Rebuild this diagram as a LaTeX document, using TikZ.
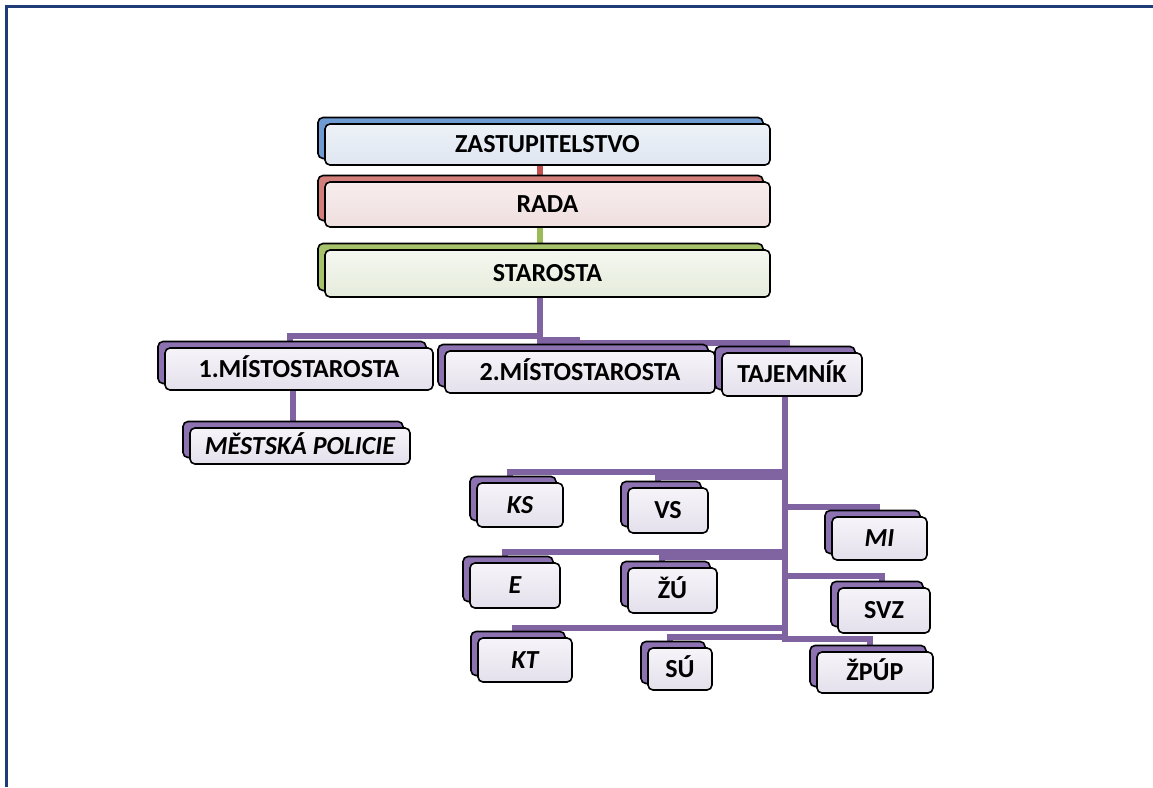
\documentclass[tikz,border=0pt]{standalone}
\usepackage{fontspec}
\setmainfont{Carlito}
\usetikzlibrary{shadows,backgrounds}

\definecolor{framenavy}{HTML}{1F3C78}
\definecolor{linkpurple}{HTML}{8064A2}
\definecolor{linkred}{HTML}{C0504D}
\definecolor{linkgreen}{HTML}{9BBB59}
\definecolor{backpurple}{HTML}{8C72B0}
\definecolor{backblue}{HTML}{6F9BD3}
\definecolor{backred}{HTML}{D27F7C}
\definecolor{backgreen}{HTML}{A6C26A}
\definecolor{facepurple}{HTML}{F6F4F9}
\definecolor{facepurpleB}{HTML}{E4E0EC}
\definecolor{faceblue}{HTML}{EDF2F8}
\definecolor{faceblueB}{HTML}{DFE6F0}
\definecolor{facered}{HTML}{F8EDED}
\definecolor{faceredB}{HTML}{EFDFDF}
\definecolor{facegreen}{HTML}{F4F7F0}
\definecolor{facegreenB}{HTML}{E6ECDC}

\tikzset{
  x=1pt, y=-1pt,
  card/.style={draw=black, line width=1.6pt, rounded corners=5pt, inner sep=0pt,
    font=\fontsize{26}{26}\selectfont\bfseries, text height=16.7pt, text depth=0pt},
  cardback/.style={copy shadow={shadow xshift=-7pt, shadow yshift=6.5pt,
    fill=#1, draw=black, line width=1.6pt}},
  purplecard/.style={card, top color=facepurple, bottom color=facepurpleB, cardback=backpurple},
  bluecard/.style={card, top color=faceblue, bottom color=faceblueB, cardback=backblue},
  redcard/.style={card, top color=facered, bottom color=faceredB, cardback=backred},
  greencard/.style={card, top color=facegreen, bottom color=facegreenB, cardback=backgreen},
  link/.style={line width=5.5pt, color=linkpurple},
  redlink/.style={line width=5.5pt, color=linkred},
  greenlink/.style={line width=5.5pt, color=linkgreen},
  frameline/.style={line width=2.5pt, color=framenavy}
}

\begin{document}
\begin{tikzpicture}
\useasboundingbox (0,0) rectangle (1153,787);

% page frame (top and left edges)
\coordinate (fa) at (6.5,787);
\coordinate (fb) at (6.5,6.5);
\coordinate (fc) at (1153,6.5);
\draw[frameline] (fa) -- (fb) -- (fc);

% top of the hierarchy
\node[bluecard, minimum width=445pt, minimum height=41pt] (zast) at (547.5,144.5) {ZASTUPITELSTVO};
\node[redcard, minimum width=445pt, minimum height=45pt] (rada) at (547.5,204.5) {RADA};
\node[greencard, minimum width=445pt, minimum height=47pt] (star) at (547.5,273.5) {STAROSTA};

% second level
\node[purplecard, minimum width=268pt, minimum height=42pt] (m1) at (299,369) {1.MÍSTOSTAROSTA};
\node[purplecard, minimum width=270pt, minimum height=42pt] (m2) at (580,372) {2.MÍSTOSTAROSTA};
\node[purplecard, minimum width=140pt, minimum height=43pt] (taj) at (792,374.5) {TAJEMNÍK};
\node[purplecard, minimum width=220pt, minimum height=36pt] (mp) at (300,446) {\itshape MĚSTSKÁ POLICIE};

% departments
\node[purplecard, minimum width=86pt, minimum height=44pt] (ks) at (520,505) {\itshape KS};
\node[purplecard, minimum width=80pt, minimum height=45pt] (vs) at (668,510.5) {VS};
\node[purplecard, minimum width=95pt, minimum height=43pt] (mi) at (879.5,538.5) {\itshape MI};
\node[purplecard, minimum width=90pt, minimum height=45pt] (e) at (515,585.5) {\itshape E};
\node[purplecard, minimum width=89pt, minimum height=45pt] (zu) at (672.5,590.5) {ŽÚ};
\node[purplecard, minimum width=92pt, minimum height=45pt] (svz) at (884,610.5) {SVZ};
\node[purplecard, minimum width=94pt, minimum height=44pt] (kt) at (525,660) {\itshape KT};
\node[purplecard, minimum width=64pt, minimum height=42pt] (su) at (680,669) {SÚ};
\node[purplecard, minimum width=116pt, minimum height=41pt] (zpup) at (875,672.5) {ŽPÚP};

% connectors behind the cards
\begin{scope}[on background layer]
  \draw[redlink] ([xshift=-7.5pt]zast.south) -- ([xshift=-7.5pt]rada.north);
  \draw[greenlink] ([xshift=-7.5pt]rada.south) -- ([xshift=-7.5pt]star.north);
  \draw[link] ([xshift=-7.5pt]star.south) |- ([xshift=-9pt,yshift=11pt]m1.north) -- ([xshift=-9pt]m1.north);
  \draw[link] ([xshift=-7.5pt]star.south) |- ([xshift=-3pt,yshift=10pt]m2.north) -- ([xshift=-3pt]m2.north);
  \draw[link] ([xshift=-7.5pt]star.south) |- ([xshift=-5pt,yshift=9pt]taj.north) -- ([xshift=-5pt]taj.north);
  \coordinate (m1foot) at ([xshift=-6pt]m1.south);
  \draw[link] (m1foot) -- (m1foot |- mp.north);
  \foreach \c/\dx/\dy in {ks/-10/10, vs/-10/10, mi/-2.5/9, e/-10/10, zu/-10.5/10,
                          svz/-2/11, kt/-10/9, su/-10/10, zpup/-5/12}
    \draw[link] ([xshift=-7pt]taj.south) |- ([xshift=\dx pt,yshift=\dy pt]\c.north) -- ([xshift=\dx pt]\c.north);
\end{scope}
\end{tikzpicture}
\end{document}
